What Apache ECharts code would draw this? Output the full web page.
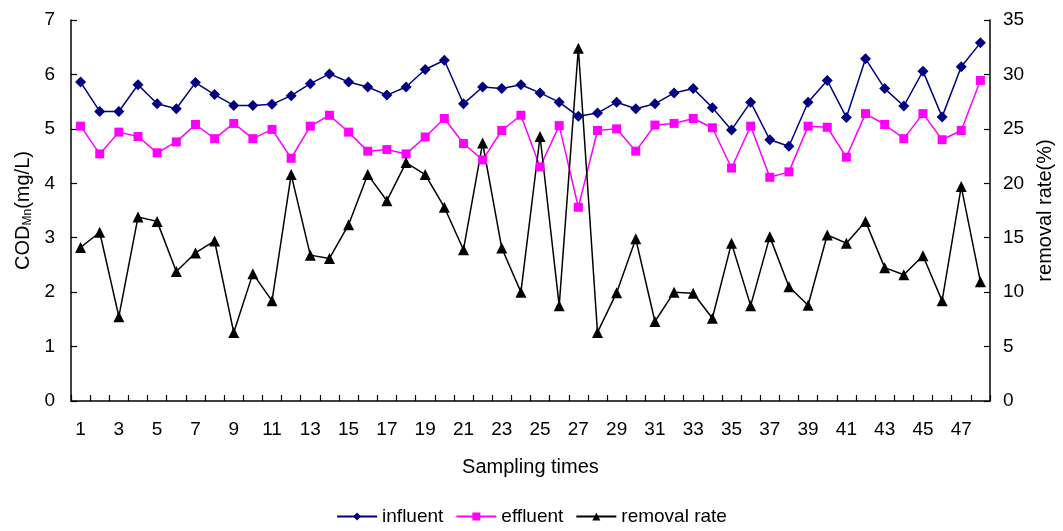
<!DOCTYPE html>
<html><head><meta charset="utf-8">
<script src="https://cdn.jsdelivr.net/npm/echarts@6/dist/echarts.min.js"></script>
<style>html,body{margin:0;padding:0;background:#fff}#c{width:1063px;height:531px}</style>
</head><body><div id="c"></div>
<script>
const categories = Array.from({length:48},(_,i)=>String(i+1));
const influent = [5.86,5.32,5.32,5.81,5.46,5.37,5.85,5.63,5.43,5.43,5.45,5.61,5.83,6.01,5.86,5.77,5.62,5.77,6.09,6.26,5.46,5.77,5.74,5.81,5.66,5.49,5.23,5.29,5.49,5.37,5.46,5.66,5.74,5.39,4.98,5.49,4.80,4.68,5.49,5.89,5.21,6.29,5.74,5.42,6.06,5.22,6.14,6.58];
const effluent = [5.05,4.54,4.94,4.86,4.56,4.76,5.08,4.82,5.10,4.82,4.99,4.46,5.05,5.25,4.94,4.59,4.62,4.54,4.85,5.19,4.73,4.43,4.97,5.25,4.30,5.06,3.56,4.97,5.00,4.59,5.07,5.10,5.19,5.02,4.28,5.05,4.11,4.21,5.05,5.03,4.48,5.28,5.08,4.82,5.28,4.80,4.97,5.89];
const removalRate = [14.1,15.5,7.75,16.9,16.5,11.9,13.6,14.7,6.3,11.7,9.2,20.8,13.4,13.1,16.2,20.8,18.4,21.9,20.8,17.8,13.9,23.7,14.05,10.0,24.3,8.76,32.4,6.3,9.95,14.9,7.3,10.0,9.9,7.6,14.5,8.76,15.1,10.5,8.8,15.25,14.5,16.5,12.25,11.6,13.35,9.2,19.7,10.96];

const font = 'Liberation Sans, Arial, sans-serif';
const chart = echarts.init(document.getElementById('c'));
const axisLine = {show:true,lineStyle:{color:'#000',width:1.5}};
const axisTick = {show:true,inside:true,length:6,lineStyle:{color:'#000',width:1.2}};
chart.setOption({
  animation:false,
  textStyle:{fontFamily:font},
  grid:{left:71,right:71,top:20,bottom:130},
  legend:{
    top:504,left:'center',itemWidth:40,itemHeight:10,itemGap:12,padding:[3,5,3,5],
    textStyle:{fontFamily:font,fontSize:19,color:'#000'},
    data:['influent','effluent','removal rate']
  },
  xAxis:{
    type:'category',data:categories,boundaryGap:true,
    name:'Sampling times',nameLocation:'middle',nameGap:56,
    nameTextStyle:{fontFamily:font,fontSize:20,color:'#000'},
    axisLine:axisLine,
    axisTick:{show:true,inside:true,length:6,interval:0,alignWithLabel:false,lineStyle:{color:'#000',width:1.2}},
    axisLabel:{color:'#000',fontFamily:font,fontSize:19,interval:1,margin:19},
    splitLine:{show:false}
  },
  yAxis:[
    {
      type:'value',min:0,max:7,interval:1,position:'left',
      axisLine:axisLine,axisTick:axisTick,splitLine:{show:false},
      name:'{a|COD}{b|Mn}{a|(mg/L)}',nameLocation:'middle',nameGap:37,nameRotate:90,
      nameTextStyle:{rich:{a:{fontFamily:font,fontSize:20,color:'#000'},b:{fontFamily:font,fontSize:12,color:'#000',verticalAlign:'bottom',padding:[7,0,0,0]}}},
      axisLabel:{color:'#000',fontFamily:font,fontSize:19,margin:16}
    },
    {
      type:'value',min:0,max:35,interval:5,position:'right',
      axisLine:axisLine,axisTick:axisTick,splitLine:{show:false},
      name:'removal rate(%)',nameLocation:'middle',nameGap:45,nameRotate:90,
      nameTextStyle:{fontFamily:font,fontSize:20,color:'#000'},
      axisLabel:{color:'#000',fontFamily:font,fontSize:19,margin:13}
    }
  ],
  series:[
    {name:'influent',type:'line',data:influent,yAxisIndex:0,symbol:'diamond',symbolSize:11,
      lineStyle:{color:'#000080',width:1.5},itemStyle:{color:'#000080'}},
    {name:'effluent',type:'line',data:effluent,yAxisIndex:0,symbol:'rect',symbolSize:9,
      lineStyle:{color:'#FF00FF',width:1.5},itemStyle:{color:'#FF00FF'}},
    {name:'removal rate',type:'line',data:removalRate,yAxisIndex:1,symbol:'triangle',symbolSize:11,
      lineStyle:{color:'#000',width:1.5},itemStyle:{color:'#000'}}
  ]
});
</script></body></html>
